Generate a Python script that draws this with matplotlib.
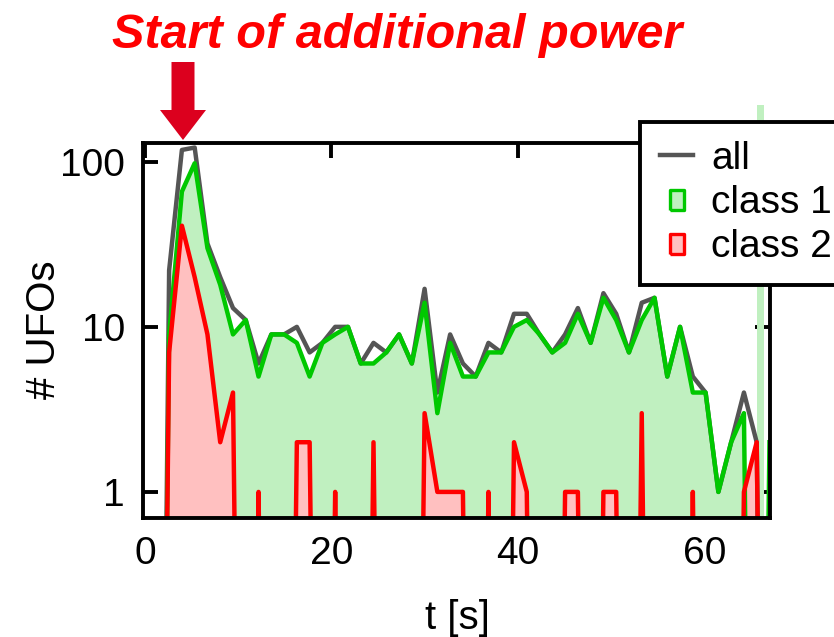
import numpy as np
import matplotlib
matplotlib.use('Agg')
import matplotlib.pyplot as plt
from matplotlib.lines import Line2D
from matplotlib.patches import FancyArrow
from matplotlib.ticker import NullLocator

plt.rcParams['font.family'] = ['Liberation Sans', 'DejaVu Sans']

# histogram bins [s]
t_first = 2.6
bin_width = 1.369

# counts per bin
n_all = [22, 118, 122, 32, 20, 13, 11, 6, 9, 9,
         10, 7, 8, 10, 10, 6, 8, 7, 9, 6,
         17, 4, 9, 6, 5, 8, 7, 12, 12, 9,
         7, 9, 13, 8, 16, 12, 7, 14, 15, 5,
         10, 5, 4, 1, 2, 4, 2, 0]
n_class1 = [9, 66, 98, 30, 18, 9, 11, 5, 9, 9,
            8, 5, 8, 9, 10, 6, 6, 7, 9, 6,
            14, 3, 8, 5, 5, 7, 7, 10, 11, 9,
            7, 8, 12, 8, 15, 11, 7, 11, 15, 5,
            10, 4, 4, 1, 2, 3, 0, 2]
n_class2 = [7, 41, 20, 9, 2, 4, 0, 1, 0, 0,
            2, 2, 0, 1, 0, 0, 2, 0, 0, 0,
            3, 1, 1, 1, 0, 1, 0, 2, 1, 0,
            0, 1, 1, 0, 1, 1, 0, 3, 0, 0,
            0, 1, 0, 0, 0, 1, 2, 0]

labels = ['all', 'class 1', 'class 2']

GRAY = '#555555'
GREEN = '#00c800'
GREEN_FILL = '#c0f0c0'
RED = '#ff0000'
RED_FILL = '#ffc0c0'
LW = 3.2
FLOOR = 1e-6  # zero counts on the log axis drop straight to the bottom

t = t_first + bin_width * np.arange(len(n_all))


def prep(n):
    """add an empty bin in front and map zeros below the axis"""
    tt = np.concatenate([[t[0] - bin_width], t])
    nn = np.concatenate([[0], n]).astype(float)
    nn[nn <= 0] = FLOOR
    return tt, nn


fig = plt.figure(figsize=(8.34, 6.37), dpi=100)
ax = fig.add_axes([143 / 834, 1 - 518 / 637, 627 / 834, 375 / 637])
ax.set_axisbelow(True)

tt, y_all = prep(n_all)
_, y_c1 = prep(n_class1)
_, y_c2 = prep(n_class2)

ax.fill_between(tt, FLOOR, y_c1, color=GREEN_FILL, lw=0, zorder=1)
ax.fill_between(tt, FLOOR, y_c2, color=RED_FILL, lw=0, zorder=1.1)
# stray fill strip next to the last bin
ax.axvspan(t[-2], t[-2] + 0.55 * bin_width, ymin=0, ymax=1.1, clip_on=False,
           color=GREEN_FILL, lw=0, zorder=1.2)
ax.plot(tt, y_all, color=GRAY, lw=LW, zorder=2)
ax.plot(tt, y_c1, color=GREEN, lw=LW, zorder=2.1)
ax.plot(tt, y_c2, color=RED, lw=LW, zorder=2.2)

ax.set_yscale('log')
ax.set_ylim(0.695, 130)
ax.set_xlim(-0.2, 67.0)
ax.set_yticks([1, 10, 100], labels=['1', '10', '100'])
ax.yaxis.set_minor_locator(NullLocator())
ax.set_xticks([0, 20, 40, 60])
ax.tick_params(axis='both', which='major', direction='in', length=11, width=2.8,
               labelsize=28, top=True, right=True, bottom=False, pad=13)
for sp in ax.spines.values():
    sp.set_linewidth(2.8)

fig.text(44 / 834, 1 - 330 / 637, '# UFOs', rotation=90, fontsize=29,
         ha='center', va='center')
fig.text(457 / 834, 1 - 618 / 637, 't [s]', fontsize=29, ha='center', va='center')

# legend
rect = [(-0.35, -0.5), (0.35, -0.5), (0.35, 0.5), (-0.35, 0.5), (-0.35, -0.5)]
handles = [
    Line2D([], [], color=GRAY, lw=LW),
    Line2D([], [], ls='none', marker=rect, ms=14, mfc=GREEN_FILL, mec=GREEN, mew=2.4),
    Line2D([], [], ls='none', marker=rect, ms=14, mfc=RED_FILL, mec=RED, mew=2.4),
]
leg = ax.legend(handles, labels, loc='upper left', bbox_to_anchor=(0.793, 1.057),
                borderaxespad=0, fancybox=False, edgecolor='black', framealpha=1,
                fontsize=28, handlelength=0.87, handletextpad=0.45,
                labelspacing=0.21, borderpad=0.5)
leg.get_frame().set_linewidth(2.8)
leg.set_zorder(5)

# annotation
fig.text(397 / 834, 1 - 35 / 637, 'Start of additional power', color='red',
         fontsize=35, fontweight='bold', fontstyle='italic', ha='center', va='center')
fig.add_artist(FancyArrow(1.83, 5.75, 0, -0.78, width=0.23, head_width=0.46,
                          head_length=0.30, length_includes_head=True,
                          color='#dc001e', lw=0, transform=fig.dpi_scale_trans))

fig.savefig('out.png', dpi=100)
